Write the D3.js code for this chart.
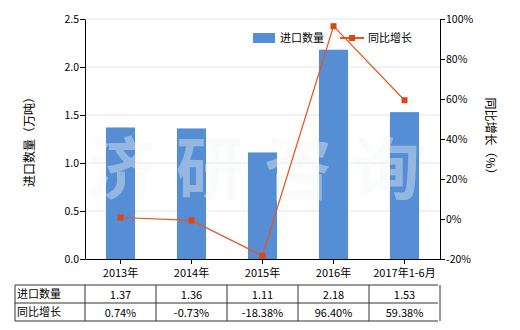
<!DOCTYPE html>
<html><head><meta charset="utf-8">
<script src="https://cdn.jsdelivr.net/npm/d3@7"></script>
<style>body{margin:0;background:#fff}text{font-family:"Noto Sans CJK SC","DejaVu Sans",sans-serif}</style>
</head><body><svg id="c" width="520" height="330"></svg>
<script>
const categories = ["2013年","2014年","2015年","2016年","2017年1-6月"];
const imports = [1.37,1.36,1.11,2.18,1.53];
const growth = [0.74,-0.73,-18.38,96.40,59.38];
const importLabels = ["1.37","1.36","1.11","2.18","1.53"];
const growthLabels = ["0.74%","-0.73%","-18.38%","96.40%","59.38%"];
const leftTicks = [0,0.5,1,1.5,2,2.5];
const rightTicks = [-20,0,20,40,60,80,100];

const svg = d3.select("#c");
const L=85,R=440,T=19,B=259;
const x = d3.scaleBand().domain(categories).range([L,R]).paddingInner(0.59).paddingOuter(0.295);
const xc = d3.scaleBand().domain(categories).range([L,R]);
const y = d3.scaleLinear().domain([0,2.5]).range([B,T]);
const y2 = d3.scaleLinear().domain([-20,100]).range([B,T]);

// gridlines
svg.append("g").selectAll("line").data(leftTicks.slice(1)).join("line")
  .attr("x1",L).attr("x2",R).attr("y1",d=>y(d)).attr("y2",d=>y(d))
  .attr("stroke","#e4e4e4").attr("stroke-width",1);

// bars
svg.append("g").selectAll("rect").data(imports).join("rect")
  .attr("x",(d,i)=>x(categories[i])).attr("width",x.bandwidth())
  .attr("y",d=>y(d)).attr("height",d=>B-y(d)).attr("fill","#558ed5");

// watermark
svg.append("g").selectAll("text").data(["济","研","咨","询"]).join("text")
  .attr("x",(d,i)=>122+i*88).attr("y",194).attr("text-anchor","middle")
  .attr("font-size",68).attr("font-weight","bold").attr("fill","#f2f5f5").attr("fill-opacity",0.4)
  .text(d=>d);

// axes
const fmt = d3.format(".1f");
const ax = svg.append("g").attr("transform",`translate(${L},0)`).call(d3.axisLeft(y).tickValues(leftTicks).tickFormat(fmt).tickSize(5).tickSizeOuter(0));
const ax2 = svg.append("g").attr("transform",`translate(${R},0)`).call(d3.axisRight(y2).tickValues(rightTicks).tickFormat(d=>d+"%").tickSize(5).tickSizeOuter(0));
const axb = svg.append("g").attr("transform",`translate(0,${B})`).call(d3.axisBottom(xc).tickSize(5).tickSizeOuter(0).tickFormat(()=>""));
[ax,ax2,axb].forEach(a=>{a.selectAll("path,line").attr("stroke","#000");a.selectAll("text").attr("fill","#000").attr("font-family","'DejaVu Sans',sans-serif").style("font-size","10.5px");});
ax.selectAll("text").attr("x",-6);
ax2.selectAll("text").attr("x",6);

// category labels
svg.append("g").selectAll("text").data(categories).join("text")
  .attr("x",d=>xc(d)+xc.bandwidth()/2).attr("y",277).attr("text-anchor","middle")
  .attr("font-size",11).text(d=>d);

// line
const line = d3.line().x((d,i)=>xc(categories[i])+xc.bandwidth()/2).y(d=>y2(d));
svg.append("path").datum(growth).attr("d",line).attr("fill","none").attr("stroke","#e8541f").attr("stroke-width",1.2);
svg.append("g").selectAll("rect").data(growth).join("rect")
  .attr("x",(d,i)=>xc(categories[i])+xc.bandwidth()/2-3).attr("y",d=>y2(d)-3)
  .attr("width",6).attr("height",6).attr("fill","#e0450e");

// axis titles
svg.append("text").attr("transform","translate(34,139) rotate(-90)").attr("text-anchor","middle").attr("font-size",12).text("进口数量（万吨）");
svg.append("text").attr("transform","translate(486,139) rotate(90)").attr("text-anchor","middle").attr("font-size",12).text("同比增长（%）");

// legend
svg.append("rect").attr("x",253).attr("y",33).attr("width",22).attr("height",10).attr("fill","#558ed5");
svg.append("text").attr("x",280).attr("y",42).attr("font-size",11).text("进口数量");
svg.append("line").attr("x1",340).attr("x2",364).attr("y1",38).attr("y2",38).attr("stroke","#e8541f").attr("stroke-width",2);
svg.append("rect").attr("x",349).attr("y",35).attr("width",6).attr("height",6).attr("fill","#e0450e");
svg.append("text").attr("x",368).attr("y",42).attr("font-size",11).text("同比增长");

// table
const tl=15, tr=438, ty=[285,303,321];
const cols=[tl].concat(categories.map(c=>xc(c))).concat([R]);
const tg = svg.append("g");
ty.forEach(v=>tg.append("line").attr("x1",tl).attr("x2",tr).attr("y1",v).attr("y2",v).attr("stroke","#333"));
cols.forEach(v=>tg.append("line").attr("x1",v).attr("x2",v).attr("y1",ty[0]).attr("y2",ty[2]).attr("stroke","#333"));
tg.append("text").attr("x",17).attr("y",298).attr("font-size",11).text("进口数量");
tg.append("text").attr("x",17).attr("y",316).attr("font-size",11).text("同比增长");
tg.append("g").selectAll("text").data(importLabels).join("text")
  .attr("x",(d,i)=>xc(categories[i])+xc.bandwidth()/2).attr("y",299).attr("text-anchor","middle").attr("font-size",11).text(d=>d);
tg.append("g").selectAll("text").data(growthLabels).join("text")
  .attr("x",(d,i)=>xc(categories[i])+xc.bandwidth()/2).attr("y",317).attr("text-anchor","middle").attr("font-size",11).text(d=>d);
</script></body></html>
